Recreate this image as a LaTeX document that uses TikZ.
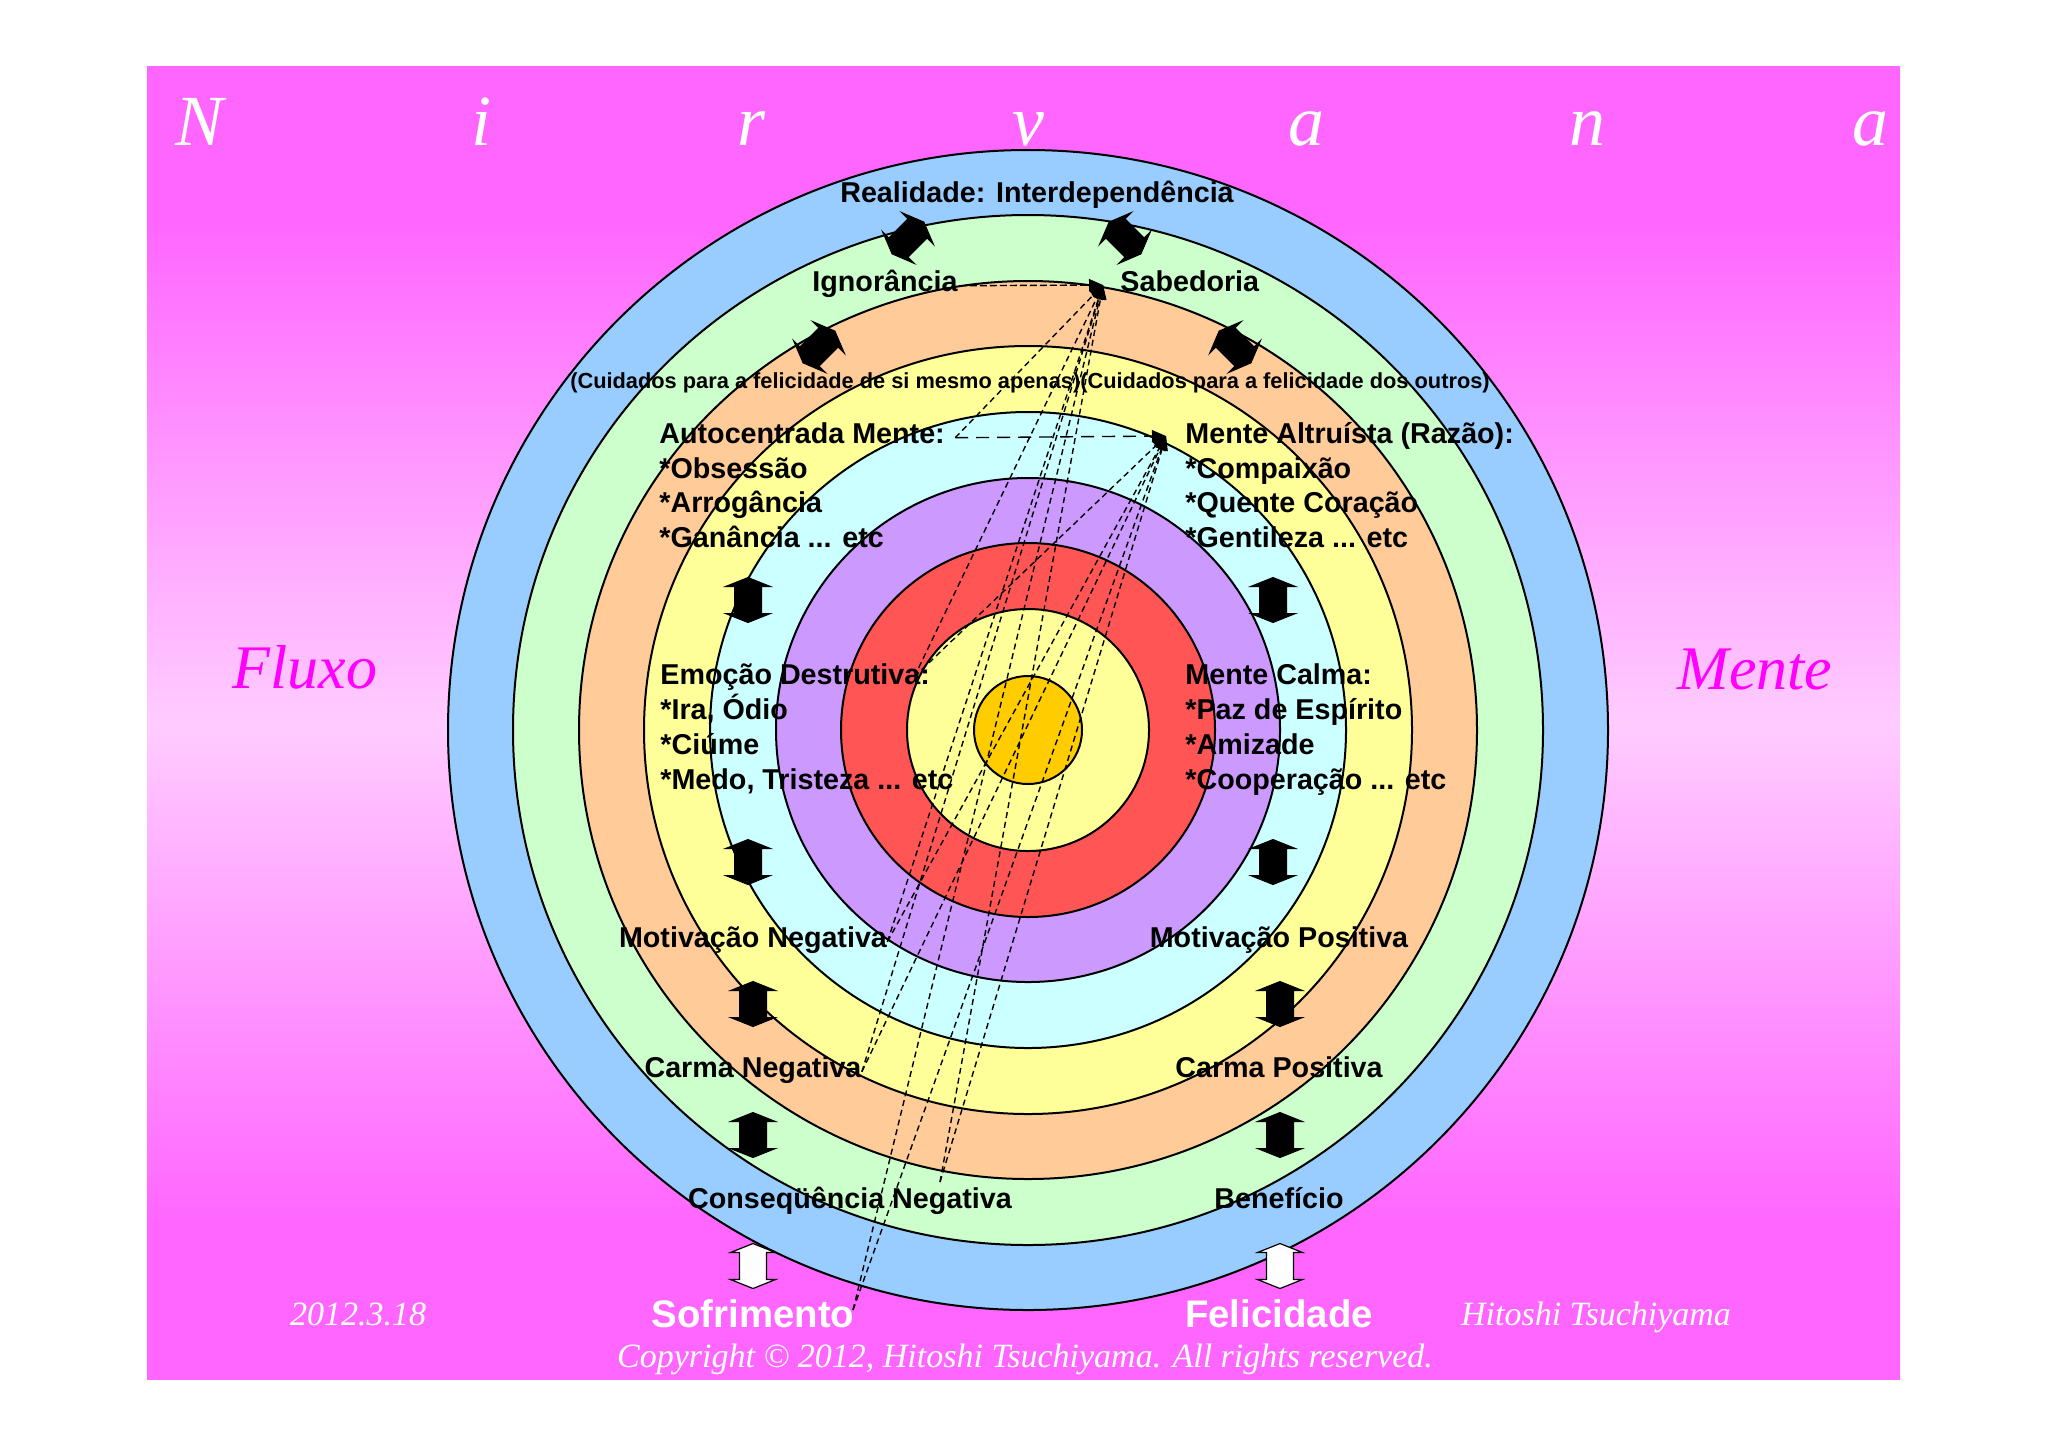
\documentclass[tikz,border=0pt]{standalone}
\usepackage{fontspec}
\setmainfont{Liberation Sans}
\newfontfamily\scriptserif{Liberation Serif}
\usetikzlibrary{arrows.meta}
\definecolor{bgmag}{HTML}{FF66FF}
\definecolor{bglight}{HTML}{FFCCFF}
\definecolor{ringblue}{HTML}{99CCFF}
\definecolor{ringgreen}{HTML}{CCFFCC}
\definecolor{ringpeach}{HTML}{FFCC99}
\definecolor{ringyellow}{HTML}{FFFF99}
\definecolor{ringcyan}{HTML}{CCFFFF}
\definecolor{ringpurple}{HTML}{CC99FF}
\definecolor{ringred}{HTML}{FF5555}
\definecolor{ringgold}{HTML}{FFCC00}
\definecolor{fluxmag}{HTML}{FF00FF}
\pgfdeclareverticalshading{bgshade}{100bp}{color(0bp)=(bgmag); color(25bp)=(bgmag); color(31bp)=(bgmag); color(50bp)=(bglight); color(69bp)=(bgmag); color(75bp)=(bgmag); color(100bp)=(bgmag)}
\tikzset{
  lbl/.style={font=\fontsize{14.35}{17}\selectfont\bfseries, inner sep=0pt},
  smalllbl/.style={font=\fontsize{10.9}{13}\selectfont\bfseries, inner sep=0pt},
  whitelbl/.style={font=\fontsize{19.2}{22}\selectfont\bfseries, text=white, inner sep=0pt},
  itl/.style={font=\scriptserif\itshape\fontsize{17}{20}\selectfont, text=white, inner sep=0pt},
  nirv/.style={font=\scriptserif\itshape\fontsize{36}{40}\selectfont, text=white, inner sep=0pt},
  bigit/.style={font=\scriptserif\itshape\fontsize{31}{36}\selectfont, text=fluxmag, inner sep=0pt},
  ringline/.style={draw=black, line width=1pt},
  blkarrow/.style={fill=black, draw=black, line width=0.5pt},
  wharrow/.style={fill=white, draw=black, line width=0.6pt},
  fanline/.style={dash pattern=on 3pt off 2pt, line width=0.7pt, -{Triangle[length=7pt,width=6pt]}},
  ignline/.style={dash pattern=on 3.5pt off 1.5pt, line width=0.7pt, -{Triangle[length=7pt,width=6pt]}},
  autoline/.style={dash pattern=on 6.5pt off 4pt, line width=0.7pt, -{Triangle[length=7pt,width=6pt]}},
  dblarrow/.pic={\path[pic actions] (0,22.5) -- (22.5,13.5) -- (13.5,13.5) -- (13.5,-13.5) -- (22.5,-13.5) -- (0,-22.5) -- (-22.5,-13.5) -- (-13.5,-13.5) -- (-13.5,13.5) -- (-22.5,13.5) -- cycle;}
}
\begin{document}
\begin{tikzpicture}[x=0.5pt,y=-0.5pt]
\useasboundingbox (0,0) rectangle (2048,1447);
\fill[white] (0,0) rectangle (2048,1447);
\shade[shading=bgshade] (147,66) rectangle (1900,1379);

% rings
\foreach \r/\c in {290/ringblue, 257.5/ringgreen, 224.5/ringpeach, 192/ringyellow, 159/ringcyan, 126/ringpurple, 93.5/ringred, 60.5/ringyellow, 27/ringgold}
  \filldraw[fill=\c, ringline] (1028,730) circle[radius=\r pt];

% block arrows
\pic[blkarrow, rotate=-45] at (908,238) {dblarrow};
\pic[blkarrow, rotate=45] at (1125,238) {dblarrow};
\pic[blkarrow, rotate=-45] at (819,347) {dblarrow};
\pic[blkarrow, rotate=45] at (1235,347) {dblarrow};
\pic[blkarrow] at (748,600) {dblarrow};
\pic[blkarrow] at (748,862) {dblarrow};
\pic[blkarrow] at (753,1004) {dblarrow};
\pic[blkarrow] at (753,1135) {dblarrow};
\pic[wharrow] at (753,1266) {dblarrow};
\pic[blkarrow] at (1273,600) {dblarrow};
\pic[blkarrow] at (1273,862) {dblarrow};
\pic[blkarrow] at (1280,1004) {dblarrow};
\pic[blkarrow] at (1280,1135) {dblarrow};
\pic[wharrow] at (1280,1266) {dblarrow};

% title letters
\foreach \ch/\x [count=\i] in {N/200,i/481,r/751,v/1028,a/1306,n/1587,a/1870}
  \node[nirv, anchor=base] (nv\i) at (\x,145) {\ch};
\node[bigit, anchor=base west] (flux) at (232,688) {Fluxo};
\node[bigit, anchor=base west] (mente) at (1677,689) {Mente};

% labels
\node[lbl, anchor=base] (real) at (1037,202) {Realidade: Interdependência};
\node[lbl, anchor=base west] (ign) at (812,291) {Ignorância};
\node[lbl, anchor=base west] (sab) at (1120,291) {Sabedoria};
\node[smalllbl, anchor=base] (cuid) at (1030,388) {(Cuidados para a felicidade de si mesmo apenas)(Cuidados para a felicidade dos outros)};
\node[lbl, anchor=base west] (auto) at (659,443) {Autocentrada Mente:};
\node[lbl, anchor=base west] (autoa) at (659,478) {*Obsessão};
\node[lbl, anchor=base west] (autob) at (659,512) {*Arrogância};
\node[lbl, anchor=base west] (autoc) at (659,547) {*Ganância ... etc};
\node[lbl, anchor=base west] (alt) at (1185,443) {Mente Altruísta (Razão):};
\node[lbl, anchor=base west] (alta) at (1185,478) {*Compaixão};
\node[lbl, anchor=base west] (altb) at (1185,512) {*Quente Coração};
\node[lbl, anchor=base west] (altc) at (1185,547) {*Gentileza ... etc};
\node[lbl, anchor=base west] (emo) at (660,684) {Emoção Destrutiva:};
\node[lbl, anchor=base west] (emoa) at (660,719) {*Ira, Ódio};
\node[lbl, anchor=base west] (emob) at (660,754) {*Ciúme};
\node[lbl, anchor=base west] (emoc) at (660,789) {*Medo, Tristeza ... etc};
\node[lbl, anchor=base west] (calm) at (1185,684) {Mente Calma:};
\node[lbl, anchor=base west] (calma) at (1185,719) {*Paz de Espírito};
\node[lbl, anchor=base west] (calmb) at (1185,754) {*Amizade};
\node[lbl, anchor=base west] (calmc) at (1185,789) {*Cooperação ... etc};
\node[lbl, anchor=base] (motn) at (753,947) {Motivação Negativa};
\node[lbl, anchor=base] (motp) at (1279,947) {Motivação Positiva};
\node[lbl, anchor=base] (carn) at (753,1077) {Carma Negativa};
\node[lbl, anchor=base] (carp) at (1279,1077) {Carma Positiva};
\node[lbl, anchor=base] (consn) at (850,1208) {Conseqüência Negativa};
\node[lbl, anchor=base] (bene) at (1279,1208) {Benefício};
\node[whitelbl, anchor=base] (sof) at (753,1327) {Sofrimento};
\node[whitelbl, anchor=base] (feli) at (1279,1327) {Felicidade};
\node[itl, anchor=base] (date) at (358,1325) {2012.3.18};
\node[itl, anchor=base] (auth) at (1596,1325) {Hitoshi Tsuchiyama};
\node[itl, anchor=base] (copy) at (1025,1367) {Copyright © 2012, Hitoshi Tsuchiyama. All rights reserved.};

% dashed connectors
\coordinate (P1) at (1103,285);
\coordinate (P2) at (1166,436);
\coordinate (ignE) at ([xshift=1pt]ign.mid east);
\coordinate (autoE) at ([xshift=5pt]auto.mid east);
\coordinate (emoE) at ([xshift=-8pt,yshift=1pt]emo.mid east);
\coordinate (motE) at (motn.mid east);
\coordinate (carE) at (carn.mid east);
\coordinate (consE) at (940,1182);
\coordinate (sofE) at (853,1310);
\draw[ignline] (ignE) -- (P1);
\draw[autoline] (autoE) -- (P2);
\draw[fanline] (autoE) -- (P1);
\foreach \s in {emoE, motE, carE, consE, sofE} {
  \draw[fanline] (\s) -- (P1);
  \draw[fanline] (\s) -- (P2);
}
\end{tikzpicture}
\end{document}
